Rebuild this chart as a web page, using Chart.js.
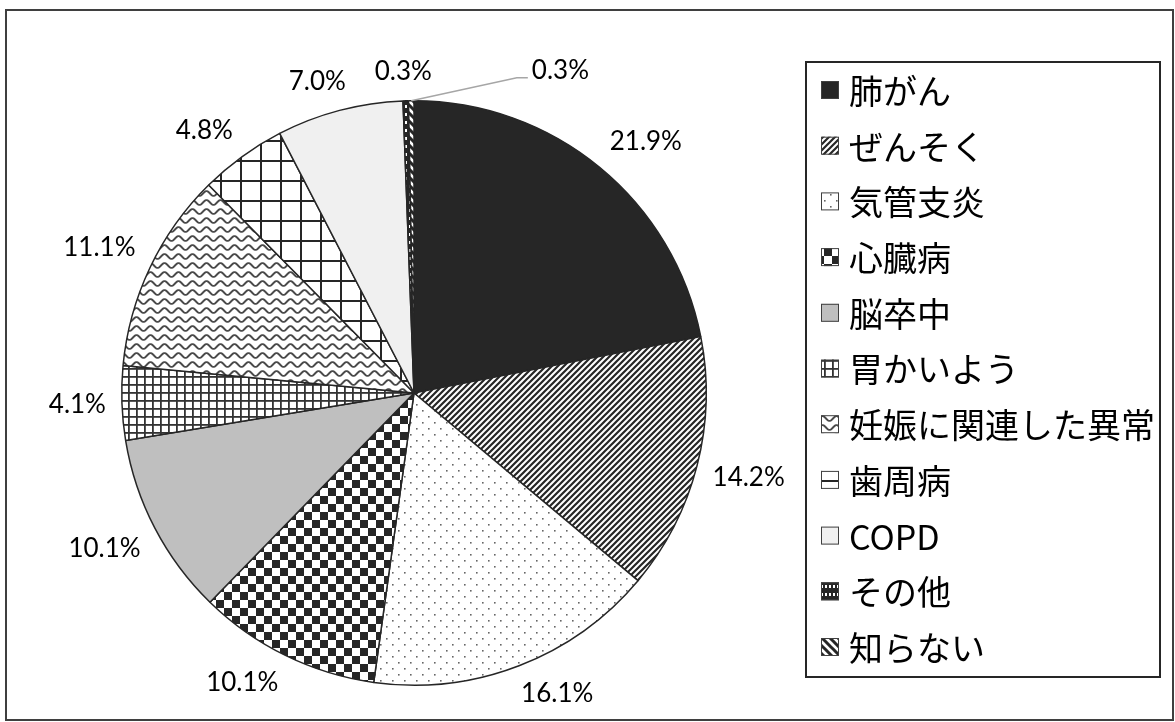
<!DOCTYPE html>
<html>
<head>
<meta charset="utf-8">
<script src="https://cdn.jsdelivr.net/npm/chart.js@4.4.0/dist/chart.umd.min.js"></script>
<style>
  html, body { margin: 0; padding: 0; background: #fff; }
  #wrap { width: 1175px; height: 722px; }
</style>
</head>
<body>
<div id="wrap"><canvas id="pieChart" width="1175" height="722"></canvas></div>
<script>
// データ
const categories = ['肺がん', 'ぜんそく', '気管支炎', '心臓病', '脳卒中', '胃かいよう',
  '妊娠に関連した異常', '歯周病', 'COPD', 'その他', '知らない'];
const shares = [21.9, 14.2, 16.1, 10.1, 10.1, 4.1, 11.1, 4.8, 7.0, 0.3, 0.3];
const percentLabels = shares.map(v => v.toFixed(1) + '%');

const canvas = document.getElementById('pieChart');
const ctx = canvas.getContext('2d');

// small helper for pattern tiles
function tile(w, h, draw) {
  const c = document.createElement('canvas');
  c.width = w; c.height = h;
  const g = c.getContext('2d');
  g.fillStyle = '#fff';
  g.fillRect(0, 0, w, h);
  draw(g, w, h);
  return ctx.createPattern(c, 'repeat');
}

const DARK = '#262626';

const fills = [
  DARK,
  // diagonal stripes
  tile(6, 6, (g) => {
    g.strokeStyle = DARK; g.lineWidth = 2.2;
    g.beginPath();
    g.moveTo(-3, 3); g.lineTo(3, -3);
    g.moveTo(0, 6); g.lineTo(6, 0);
    g.moveTo(3, 9); g.lineTo(9, 3);
    g.stroke();
  }),
  // sparse dots
  tile(12, 12, (g) => {
    g.fillStyle = '#666';
    g.fillRect(2, 2, 1.6, 1.6);
    g.fillRect(8, 8, 1.6, 1.6);
  }),
  // checkerboard
  tile(16, 16, (g) => {
    g.fillStyle = DARK;
    g.fillRect(0, 0, 8, 8);
    g.fillRect(8, 8, 8, 8);
  }),
  '#bfbfbf',
  // small grid
  tile(8, 8, (g) => {
    g.fillStyle = '#333';
    g.fillRect(0, 0, 8, 1.8);
    g.fillRect(0, 0, 1.8, 8);
  }),
  // wave
  tile(14, 9, (g) => {
    g.strokeStyle = '#4a4a4a'; g.lineWidth = 1.9;
    g.beginPath();
    for (let x = -1; x <= 15; x += 0.5) {
      const y = 4.5 + 2.4 * Math.sin(2 * Math.PI * x / 14);
      if (x === -1) g.moveTo(x, y); else g.lineTo(x, y);
    }
    g.stroke();
  }),
  // large grid
  tile(20, 20, (g) => {
    g.fillStyle = DARK;
    g.fillRect(0, 0, 20, 2);
    g.fillRect(0, 0, 2, 20);
  }),
  '#f0f0f0',
  // hourglass-ish
  tile(4, 8, (g) => {
    g.fillStyle = DARK;
    g.fillRect(0, 0, 4, 8);
    g.fillStyle = '#fff';
    g.fillRect(1, 1, 2, 3);
  }),
  // wide diagonal
  tile(8, 8, (g) => {
    g.strokeStyle = DARK; g.lineWidth = 3;
    g.beginPath();
    g.moveTo(-2, -2); g.lineTo(10, 10);
    g.moveTo(-6, 2); g.lineTo(2, 10);
    g.moveTo(6, -2); g.lineTo(14, 6);
    g.stroke();
  })
];

const clamp1 = (t) => Math.max(-1, Math.min(1, t));

// frame, legend box and labels
const decorations = {
  id: 'decorations',
  afterDraw(chart) {
    const c = chart.ctx;
    c.save();
    // outer frame
    c.strokeStyle = '#3f3f3f';
    c.lineWidth = 2;
    c.strokeRect(6, 10, 1167, 710);

    // legend box
    c.strokeStyle = DARK;
    c.lineWidth = 2;
    c.strokeRect(806, 62, 354, 615);

    // legend entries
    c.font = '34px "Noto Sans CJK JP"';
    c.textBaseline = 'middle';
    c.textAlign = 'left';
    chart.data.labels.forEach((name, i) => {
      const y = 90 + i * 55.7;
      c.fillStyle = fills[i];
      c.fillRect(821, y - 9, 18, 18);
      c.strokeStyle = '#404040';
      c.lineWidth = 1;
      c.strokeRect(821.5, y - 8.5, 17, 17);
      c.fillStyle = '#000';
      c.fillText(name, 849, y + 1);
    });

    // percentage labels
    const meta = chart.getDatasetMeta(0);
    c.font = '26px Lato';
    c.textAlign = 'center';
    c.textBaseline = 'middle';
    const boxes = [];
    meta.data.forEach((arc, i) => {
      const text = percentLabels[i];
      const mid = (arc.startAngle + arc.endAngle) / 2;
      const dx = Math.cos(mid), dy = Math.sin(mid);
      const w = c.measureText(text).width, h = 26;
      const d = arc.outerRadius + 16;
      let x = arc.x + dx * d + clamp1(dx * 2.5) * w / 2;
      let y = arc.y + dy * d + clamp1(dy * 2.5) * h / 2;
      const prev = boxes[i - 1];
      let leader = false;
      if (prev && Math.abs(x - prev.x) < (w + prev.w) / 2 && Math.abs(y - prev.y) < h) {
        // too close to the neighbour: move right, above the pie, with a leader line
        y = arc.y - arc.outerRadius - 30;
        x = prev.x + prev.w / 2 + 100 + w / 2;
        leader = true;
      }
      boxes.push({ x, y, w });
      if (leader) {
        const px = arc.x + dx * arc.outerRadius, py = arc.y + dy * arc.outerRadius;
        const lx = x - w / 2 - 4;
        c.strokeStyle = '#a6a6a6';
        c.lineWidth = 1.5;
        c.beginPath();
        c.moveTo(px, py);
        c.lineTo(lx - 11, y + 7);
        c.lineTo(lx, y + 7);
        c.stroke();
      }
      c.fillStyle = '#000';
      c.fillText(text, x, y);
    });
    c.restore();
  }
};

new Chart(ctx, {
  type: 'pie',
  data: {
    labels: categories,
    datasets: [{
      data: shares,
      backgroundColor: fills,
      borderColor: DARK,
      borderWidth: 1.5
    }]
  },
  options: {
    responsive: false,
    animation: false,
    layout: { padding: { left: 121, right: 468, top: 100, bottom: 36 } },
    plugins: {
      legend: { display: false },
      tooltip: { enabled: false }
    }
  },
  plugins: [decorations]
});
</script>
</body>
</html>
